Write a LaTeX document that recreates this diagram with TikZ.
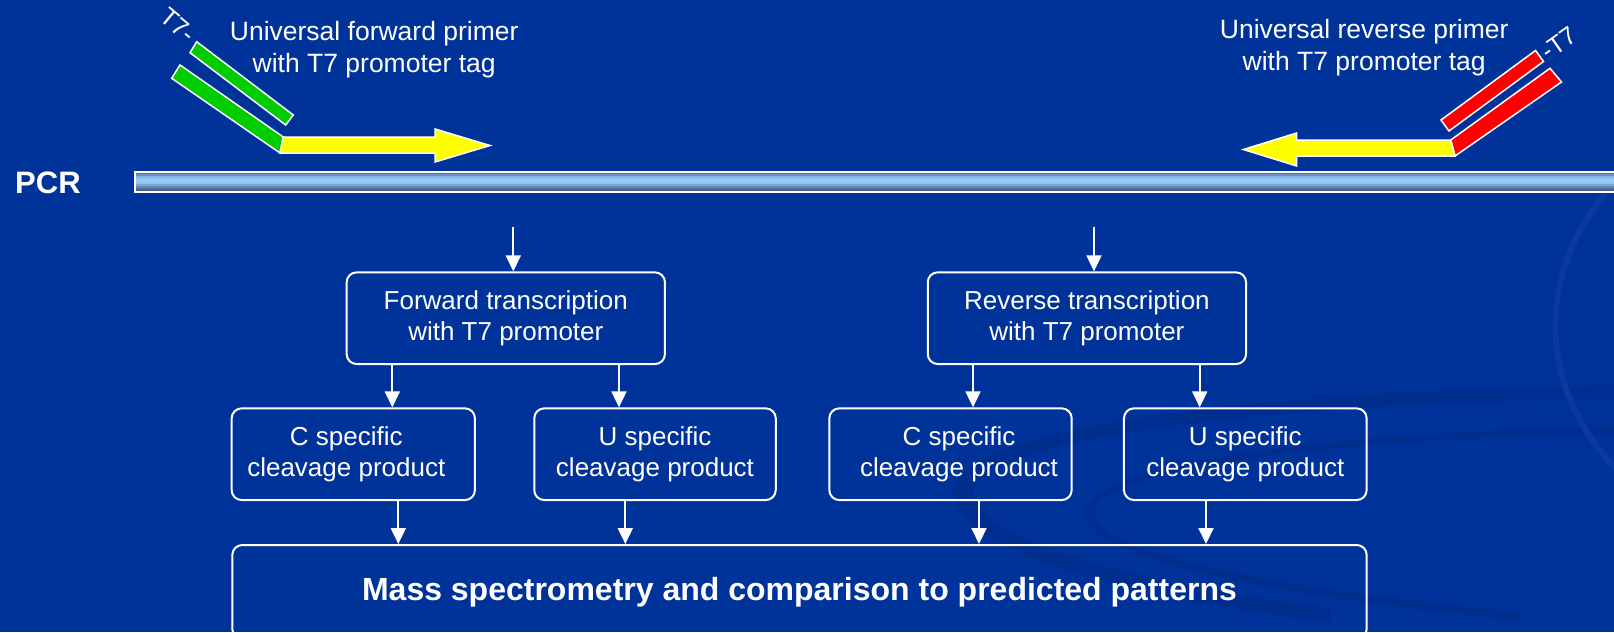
\documentclass[tikz,border=0pt]{standalone}
\usepackage{fontspec}
\setmainfont{Liberation Sans}
\usetikzlibrary{arrows.meta}
\definecolor{bg}{RGB}{0,51,153}
\definecolor{bgdark}{RGB}{0,46,142}
\definecolor{bglight}{RGB}{8,58,162}
\definecolor{primgreen}{RGB}{0,204,0}
\definecolor{primred}{RGB}{255,0,0}
\definecolor{arryellow}{RGB}{255,255,0}
\definecolor{barA}{RGB}{92,120,160}
\definecolor{barB}{RGB}{110,145,190}
\definecolor{barC}{RGB}{135,180,230}
\definecolor{barD}{RGB}{150,200,245}
\definecolor{barE}{RGB}{155,205,250}
\definecolor{barF}{RGB}{145,195,240}
\definecolor{barG}{RGB}{125,165,215}
\definecolor{barH}{RGB}{100,135,180}
\definecolor{barI}{RGB}{80,110,150}
\definecolor{barJ}{RGB}{65,90,125}
\begin{document}
\begin{tikzpicture}[x=1pt,y=-1pt,
  box/.style={draw=white,line width=2pt,rounded corners=10pt,text=white,align=center,
    font=\fontsize{26}{31.5}\selectfont,inner sep=0pt,minimum height=91.7pt},
  arr/.style={white,line width=2pt,-{Triangle[length=16pt,width=15pt]}},
  lbl/.style={text=white,align=center,font=\fontsize{26.5}{31.5}\selectfont,inner sep=0pt},
  tag/.style={text=white,font=\fontsize{25}{25}\selectfont,inner sep=0pt},
  prim/.style={draw=white,line width=1.5pt,line join=miter},
  ]
\fill[bg] (0,0) rectangle (1614,632);
\useasboundingbox (0,0) rectangle (1614,632);
\clip (0,0) rectangle (1614,632);

% faint background swooshes (kept inside the picture)
\fill[bgdark] (1614,385) .. controls (1200,392) and (925,436) .. (955,502)
  .. controls (985,560) and (1140,600) .. (1330,622) -- (1330,608)
  .. controls (1160,585) and (1000,550) .. (975,500)
  .. controls (950,448) and (1210,404) .. (1614,399) -- cycle;
\fill[bgdark] (1614,426) .. controls (1300,434) and (1095,466) .. (1085,510)
  .. controls (1076,555) and (1260,596) .. (1520,620) -- (1520,612)
  .. controls (1270,588) and (1090,552) .. (1095,510)
  .. controls (1104,472) and (1300,440) .. (1614,434) -- cycle;
\draw[bglight,line width=6pt] (1617,180) .. controls (1540,260) and (1530,380) .. (1617,470);

% labels
\node[lbl] (fwdlbl) at (374.2,49.5) {Universal forward primer\\with T7 promoter tag};
\node[lbl] (revlbl) at (1364.2,47.5) {Universal reverse primer\\with T7 promoter tag};
\node[text=white,font=\bfseries\fontsize{31}{36}\selectfont,anchor=base west,inner sep=0pt] (pcr) at (15,193.3) {PCR};
\node[tag,rotate=-40] (t7l) at (178,25) {T7-};
\node[tag,rotate=35] (t7r) at (1559,43) {-T7};

% forward primer
\draw[prim,fill=primgreen] (190,52.7) -- (196.7,41.7) -- (293.3,115) -- (285.7,125) -- cycle;
\draw[prim,fill=primgreen] (171.7,78.3) -- (180,65) -- (283.3,137) -- (280,153) -- cycle;
\draw[prim,fill=arryellow] (280,153) -- (283.3,137) -- (435,137) -- (435,129) -- (490,145.5) -- (435,162) -- (435,153) -- cycle;

% reverse primer
\draw[prim,fill=primred] (1535.5,50.5) -- (1543.5,61.5) -- (1449,131) -- (1441,120) -- cycle;
\draw[prim,fill=primred] (1550,68.3) -- (1561.5,82) -- (1455,156) -- (1450.7,140) -- cycle;
\draw[prim,fill=arryellow] (1450.7,140) -- (1296.7,140) -- (1296.7,133) -- (1243.3,149.5) -- (1296.7,166) -- (1296.7,156) -- (1455,156) -- cycle;

% PCR bar (graded stripes)
\fill[barA] (135,172) rectangle (1625,174.1);
\fill[barB] (135,174) rectangle (1625,176.1);
\fill[barC] (135,176) rectangle (1625,178.1);
\fill[barD] (135,178) rectangle (1625,180.1);
\fill[barE] (135,180) rectangle (1625,182.1);
\fill[barF] (135,182) rectangle (1625,184.1);
\fill[barG] (135,184) rectangle (1625,186.1);
\fill[barH] (135,186) rectangle (1625,188.1);
\fill[barI] (135,188) rectangle (1625,190.1);
\fill[barJ] (135,190) rectangle (1625,192);
\draw[white,line width=1.5pt] (135,172) rectangle (1625,192);

% boxes
\node[box,minimum width=318.3pt] (fwd) at (505.8,318.2) {Forward transcription\\with T7 promoter};
\node[box,minimum width=318.3pt] (rev) at (1086.9,318.2) {Reverse transcription\\with T7 promoter};
\node[box,minimum width=243.3pt] (cl) at (353.3,454.2) {C specific\hspace*{14pt}\\cleavage product\hspace*{14pt}};
\node[box,minimum width=241.5pt] (ul) at (655,454.2) {U specific\\cleavage product};
\node[box,minimum width=242.4pt] (cr) at (950.5,454.2) {\hspace*{17pt}C specific\\\hspace*{17pt}cleavage product};
\node[box,minimum width=242.7pt] (ur) at (1245.3,454.2) {U specific\\cleavage product};
\node[box,minimum width=1134.4pt,minimum height=94pt,font=\bfseries\fontsize{32}{36}\selectfont] (mass) at (799.5,592) {Mass spectrometry and comparison to predicted patterns};

% connectors
\coordinate (fin) at (513.3,226.7);
\coordinate (rin) at (1094,226.7);
\draw[arr] (fin) -- (fin |- fwd.north);
\draw[arr] (rin) -- (rin |- rev.north);
\draw[arr] (fwd.south -| 392.3,0) -- (cl.north -| 392.3,0);
\draw[arr] (fwd.south -| 619,0) -- (ul.north -| 619,0);
\draw[arr] (rev.south -| 973,0) -- (cr.north -| 973,0);
\draw[arr] (rev.south -| 1199.7,0) -- (ur.north -| 1199.7,0);
\draw[arr] (cl.south -| 398.3,0) -- (mass.north -| 398.3,0);
\draw[arr] (ul.south -| 625.3,0) -- (mass.north -| 625.3,0);
\draw[arr] (cr.south -| 979,0) -- (mass.north -| 979,0);
\draw[arr] (ur.south -| 1206,0) -- (mass.north -| 1206,0);
\end{tikzpicture}
\end{document}
